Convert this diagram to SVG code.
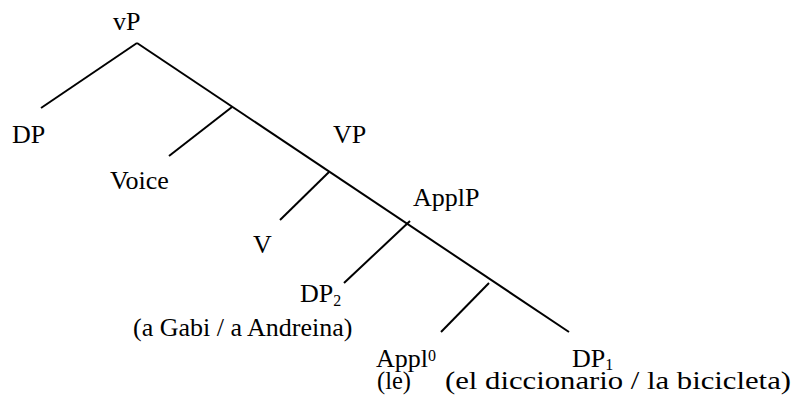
<svg xmlns="http://www.w3.org/2000/svg" width="796" height="402" viewBox="0 0 796 402">
<style>
.t{font-family:"Liberation Serif","Times New Roman",serif;font-size:26px;fill:#000}
.s{font-size:16px}
.e{stroke:#000;stroke-width:2;fill:none;stroke-linecap:butt}
</style>
<rect width="796" height="402" fill="#fff"/>
<g id="connectors">
<line class="e" x1="137" y1="43" x2="569" y2="332"/>
<line class="e" x1="137" y1="43" x2="41" y2="108"/>
<line class="e" x1="232" y1="107" x2="169" y2="156"/>
<line class="e" x1="329" y1="172" x2="280" y2="220"/>
<line class="e" x1="410" y1="221" x2="344" y2="283"/>
<line class="e" x1="489" y1="283" x2="441" y2="332"/>
</g>
<g id="vP"><text class="t" x="113" y="30">vP</text></g>
<g id="DP"><text class="t" x="12" y="143">DP</text></g>
<g id="Voice"><text class="t" x="110" y="189">Voice</text></g>
<g id="VP"><text class="t" x="333" y="143">VP</text></g>
<g id="V"><text class="t" x="253" y="253">V</text></g>
<g id="ApplP"><text class="t" x="413" y="206">ApplP</text></g>
<g id="DP2">
<text class="t" x="300" y="302">DP<tspan class="s" dy="4">2</tspan></text>
<text class="t" x="133" y="336">(a Gabi / a Andreina)</text>
</g>
<g id="Appl0">
<text class="t" x="376" y="367">Appl<tspan class="s" dy="-6">0</tspan></text>
<text class="t" x="377" y="389" textLength="34" lengthAdjust="spacingAndGlyphs">(le)</text>
</g>
<g id="DP1">
<text class="t" x="572" y="367">DP<tspan class="s" dy="3">1</tspan></text>
<text class="t" x="445" y="389" textLength="346" lengthAdjust="spacingAndGlyphs">(el diccionario / la bicicleta)</text>
</g>
</svg>
